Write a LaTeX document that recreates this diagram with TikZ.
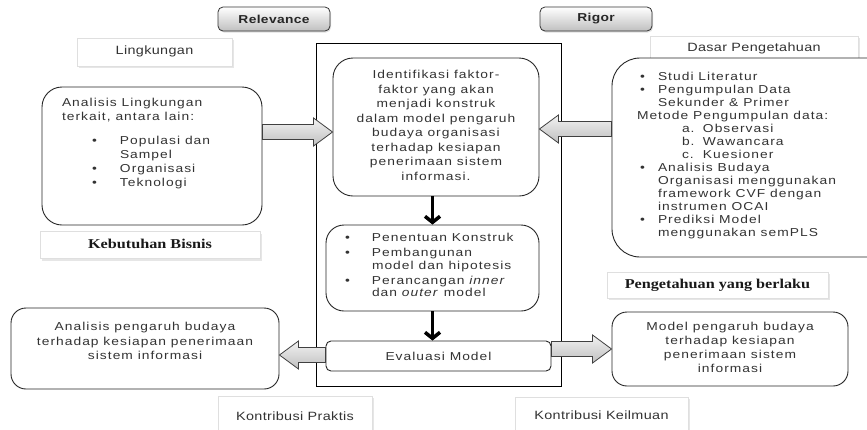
\documentclass[tikz,border=0pt]{standalone}
\usepackage{fontspec}
\setmainfont{Liberation Sans}
\newfontfamily\bodyfont{Liberation Sans}[FakeStretch=1.2,LetterSpace=9]
\newfontfamily\tagfont{Liberation Sans}[FakeStretch=1.2,LetterSpace=3]
\newfontfamily\tagserif{Liberation Serif}[FakeStretch=1.2]
\usetikzlibrary{arrows.meta,positioning,shadows,calc}

\newcommand{\itm}[2]{\hspace*{#1}\makebox[#2][l]{\textbullet}}
% wide hollow arrow, from #2 to #3, at the height of #3 shifted by #1
\newcommand{\blkarrow}[3][0]{%
  \draw[blkarrow] let \p1=(#2), \p2=(#3), \n1={ifthenelse(\x2>\x1,1,-1)} in
    ({\x1},{\y2+#1+7.5}) -- ({\x2-\n1*19},{\y2+#1+7.5}) -- ({\x2-\n1*19},{\y2+#1+14})
    -- ({\x2},{\y2+#1}) -- ({\x2-\n1*19},{\y2+#1-14}) -- ({\x2-\n1*19},{\y2+#1-7.5})
    -- ({\x1},{\y2+#1-7.5}) -- cycle;}

\begin{document}
\begin{tikzpicture}[x=1pt,y=-1pt,
  headbox/.style={rectangle, rounded corners=5pt, draw=black!80, line width=0.8pt, top color=white, bottom color=gray!50, minimum width=112pt, minimum height=24pt, inner sep=0pt, text=black!85, font=\tagfont\bfseries\fontsize{11.5}{13}\selectfont, drop shadow={opacity=0.25,shadow xshift=1pt,shadow yshift=-1.5pt}},
  tagbox/.style={rectangle, draw=gray!25, fill=white, inner sep=0pt, text=black!80, font=\tagfont\fontsize{12}{14}\selectfont, drop shadow={opacity=0.2,shadow xshift=1.5pt,shadow yshift=-2pt}},
  serif tag/.style={tagbox, font=\tagserif\bfseries\fontsize{13.5}{15}\selectfont, text=black!90},
  roundbox/.style={rectangle, draw=black!85, line width=0.9pt, fill=white, inner sep=0pt, text=black!80, font=\bodyfont\fontsize{11.5}{14}\selectfont},
  outerframe/.style={rectangle, draw=black, line width=0.8pt, inner sep=0pt},
  downarrow/.style={-{Straight Barb[length=6pt,width=15pt]}, line width=3.5pt, black},
  blkarrow/.style={draw=black!75, line width=0.8pt, top color=gray!10, bottom color=gray!50}
]
\path[use as bounding box, clip] (0,0) rectangle (867,429);

\node[headbox] (relev) at (274,19) {Relevance};
\node[headbox] (rigor) at (596,19) {Rigor};

\node[outerframe, minimum width=245pt, minimum height=343pt] (frame) at (438.5,214.5) {};

% centre column
\node[roundbox, rounded corners=20pt] (ident) at (436,127) {\parbox[c][138pt][t]{206pt}{\centering\fontsize{11.5}{14.5}\selectfont\vspace*{12.5pt}Identifikasi faktor-\\faktor yang akan\\menjadi konstruk\\dalam model pengaruh\\budaya organisasi\\terhadap kesiapan\\penerimaan sistem\\informasi.}};
\node[roundbox, rounded corners=18pt] (constr) at (432.5,268) {\parbox[c][86pt][t]{213pt}{\raggedright\fontsize{11.5}{12.5}\selectfont\vspace*{8.5pt}\itm{19pt}{27pt}Penentuan Konstruk\\[2.5pt]\itm{19pt}{27pt}Pembangunan\\\hspace*{46pt}model dan hipotesis\\[2.5pt]\itm{19pt}{27pt}Perancangan \textit{inner}\\\hspace*{46pt}dan \textit{outer} model}};
\node[roundbox, rounded corners=5pt] (evalm) at (438.5,356) {\parbox[c][30pt][c]{225pt}{\centering Evaluasi Model}};

% relevance side
\node[tagbox, minimum width=155pt, minimum height=28pt] (envlbl) at (154.5,52) {\raisebox{4pt}{Lingkungan}};
\node[roundbox, rounded corners=20pt] (envir) at (152,156) {\parbox[c][138pt][t]{220pt}{\raggedright\leftskip=20pt\vspace*{11.5pt}Analisis Lingkungan\\terkait, antara lain:\\[10pt]\itm{30pt}{28pt}Populasi dan\\\hspace*{58pt}Sampel\\\itm{30pt}{28pt}Organisasi\\\itm{30pt}{28pt}Teknologi}};
\node[serif tag, minimum width=220pt, minimum height=27pt, below=6pt of envir, xshift=-2pt] (bizlbl) {\raisebox{2pt}{Kebutuhan Bisnis}};
\node[roundbox, rounded corners=15pt] (practice) at (145,348.5) {\parbox[c][81pt][t]{268pt}{\centering\fontsize{11.5}{14.5}\selectfont\vspace*{14.5pt}Analisis pengaruh budaya\\terhadap kesiapan penerimaan\\sistem informasi}};
\node[tagbox, minimum width=154pt, minimum height=44pt] (praclbl) at (295,418) {\raisebox{3pt}{Kontribusi Praktis}};

% rigor side
\node[tagbox, minimum width=208pt, minimum height=24pt] (kblbl) at (754,48) {\raisebox{1pt}{Dasar Pengetahuan}};
\node[roundbox, rounded corners=28pt] (known) at (757,157.5) {\parbox[c][199pt][t]{290pt}{\raggedright\leftskip=25pt\fontsize{11.5}{13}\selectfont\vspace*{14.5pt}\itm{3pt}{18pt}Studi Literatur\\\itm{3pt}{18pt}Pengumpulan Data\\\hspace*{21pt}Sekunder \& Primer\\Metode Pengumpulan data:\\\hspace*{45pt}\makebox[21pt][l]{a.}Observasi\\\hspace*{45pt}\makebox[21pt][l]{b.}Wawancara\\\hspace*{45pt}\makebox[21pt][l]{c.}Kuesioner\\\itm{3pt}{18pt}Analisis Budaya\\\hspace*{21pt}Organisasi menggunakan\\\hspace*{21pt}framework CVF dengan\\\hspace*{21pt}instrumen OCAI\\\itm{3pt}{18pt}Prediksi Model\\\hspace*{21pt}menggunakan semPLS}};
\node[serif tag, minimum width=221pt, minimum height=26pt] (applbl) at (717.5,285) {\raisebox{1pt}{Pengetahuan yang berlaku}};
\node[roundbox, rounded corners=15pt] (theory) at (730,349) {\parbox[c][74pt][t]{236pt}{\centering\fontsize{11.5}{14}\selectfont\vspace*{10.5pt}Model pengaruh budaya\\terhadap kesiapan\\penerimaan sistem\\informasi}};
\node[tagbox, minimum width=173pt, minimum height=43pt] (scilbl) at (601.5,418.5) {\raisebox{6pt}{Kontribusi Keilmuan}};

% connectors
\blkarrow[-5]{envir.east}{ident.west}
\blkarrow[-2]{known.west}{ident.east}
\blkarrow[-6.5]{evalm.west}{practice.east}
\blkarrow{evalm.east}{theory.west}
\draw[downarrow] (ident.south -| constr.north) -- (constr.north);
\draw[downarrow] (constr.south) -- (constr.south |- evalm.north);
\end{tikzpicture}
\end{document}
